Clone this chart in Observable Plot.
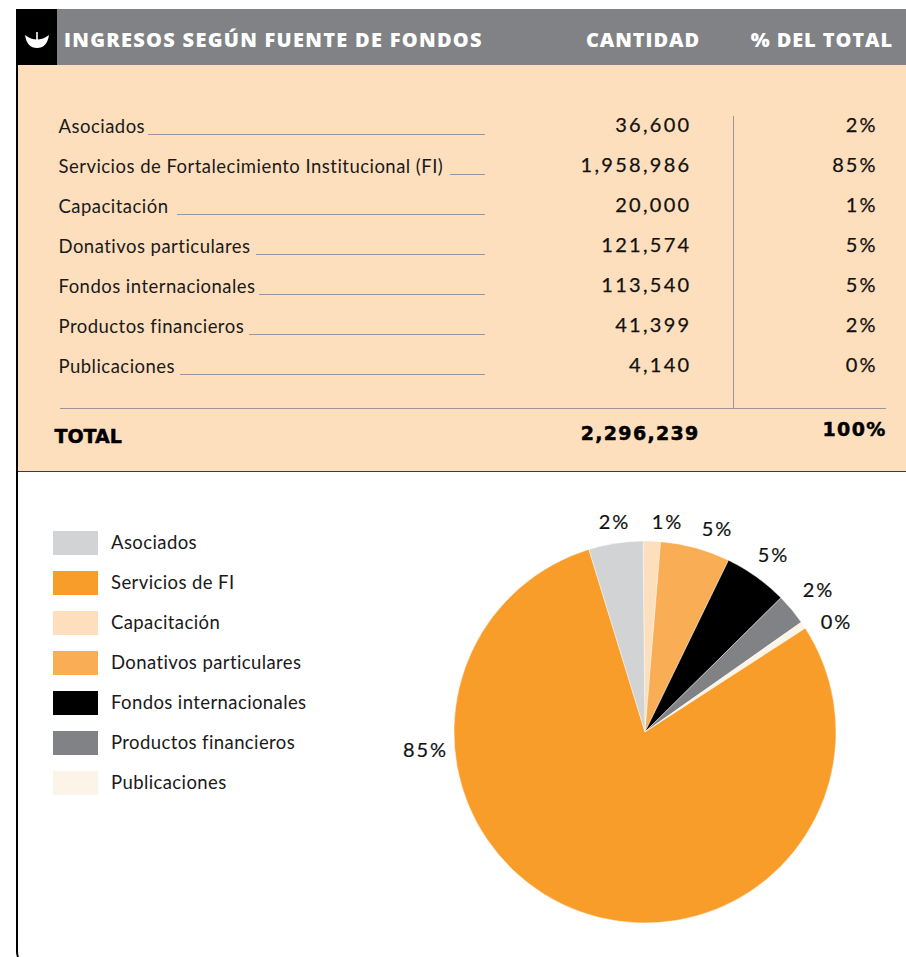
<!DOCTYPE html>
<html lang="es">
<head>
<meta charset="utf-8">
<script src="https://cdn.jsdelivr.net/npm/d3@7"></script>
<script src="https://cdn.jsdelivr.net/npm/@observablehq/plot@0.6"></script>
<style>
  html, body { margin: 0; padding: 0; background: #fff; width: 906px; height: 957px; overflow: hidden; }
  #page { position: relative; width: 906px; height: 957px; overflow: hidden; font-family: Lato, sans-serif; }
  #page > * { position: absolute; }
  .band { left: 17px; right: 0; }
  #head { top: 9px; height: 56px; background: #808285; }
  #mark { left: 17px; top: 9px; width: 40px; height: 56px; background: #000; }
  #peach { top: 65px; height: 406px; background: #fddfbd; border-bottom: 1.5px solid #3d3a36; }
  #edge { left: 16px; top: 9px; width: 30px; height: 962px; border-left: 2px solid #000; border-bottom-left-radius: 20px; box-sizing: border-box; }
  .hd { top: 27px; color: #fff; font-family: "Open Sans", sans-serif; font-weight: 800; font-size: 20px; line-height: 26px; white-space: nowrap; letter-spacing: 0.9px; }
  #h1 { letter-spacing: 1.27px; }
  #page svg.layer { left: 0; top: 0; background: transparent; overflow: visible; }
</style>
</head>
<body>
<div id="page">
  <div id="head" class="band"></div>
  <div id="peach" class="band"></div>
  <div id="edge"></div>
  <div id="mark"></div>
  <svg style="left:17px;top:9px" width="40" height="56" viewBox="0 0 40 56">
    <path d="M8 26 Q20 35 32 26 Q30 39 20 39 Q10 39 8 26Z M19.2 23h1.6v9h-1.6z" fill="#fff"/>
  </svg>
  <div class="hd" id="h1" style="left:64px"></div>
  <div class="hd" id="h2" style="right:206px"></div>
  <div class="hd" id="h3" style="right:13px"></div>
</div>
<script>
// ---- Data ----
const headers = ["INGRESOS SEGÚN FUENTE DE FONDOS", "CANTIDAD", "% DEL TOTAL"];
const rowLabels = [
  "Asociados",
  "Servicios de Fortalecimiento Institucional (FI)",
  "Capacitación",
  "Donativos particulares",
  "Fondos internacionales",
  "Productos financieros",
  "Publicaciones"
];
const amounts = [36600, 1958986, 20000, 121574, 113540, 41399, 4140];
const percents = [2, 85, 1, 5, 5, 2, 0];
const totalLabel = "TOTAL";
const totalAmount = 2296239;
const totalPercent = 100;

const legendNames = [
  "Asociados", "Servicios de FI", "Capacitación", "Donativos particulares",
  "Fondos internacionales", "Productos financieros", "Publicaciones"
];
const legendColors = ["#d1d3d4", "#f99d2a", "#fddfbd", "#f9ae55", "#000000", "#808285", "#fdf4e8"];

// Slices in drawn order, clockwise from the top; shares
const sliceNames = ["Capacitación", "Donativos particulares", "Fondos internacionales",
  "Productos financieros", "Publicaciones", "Servicios de FI", "Asociados"];
const sliceShares = [1.47, 5.9, 5.4, 2.65, 0.6, 79.4, 4.58];
const sliceLabels = ["1%", "5%", "5%", "2%", "0%", "85%", "2%"];

// ---- Layout (separate from the data) ----
const W = 906, H = 957;
const leaderStart = [148, 450, 177, 256, 259, 249, 180];
const pieC = {x: 645, y: 732, r: 191};
const labelOffset = [[22, -210], [72, -203], [128, -177], [173, -142], [191, -110], [-220, 18], [-31, -210]];
const pieStart = -0.6 * Math.PI / 180;

// applies letter spacing to a whole text mark
const spaced = px => (index, scales, values, dims, ctx, next) => {
  const g = next(index, scales, values, dims, ctx);
  g.style.letterSpacing = px + "px";
  return g;
};

const fmt = d3.format(",");
const rows = rowLabels.map((label, i) => ({label, i, amount: fmt(amounts[i]), pct: percents[i] + "%", start: leaderStart[i]}));
const page = document.getElementById("page");
document.getElementById("h1").textContent = headers[0];
document.getElementById("h2").textContent = headers[1];
document.getElementById("h3").textContent = headers[2];

const yRow = {type: "linear", domain: [0, 6], range: [126, 366], axis: null};
const xPx = {type: "linear", domain: [0, W], range: [0, W], axis: null};
const rule = "#96979a";
const heavy = "'DejaVu Sans', sans-serif";

const table = Plot.plot({
  width: W, height: H, margin: 0, className: "layer",
  style: {background: "transparent", fontFamily: "Lato, sans-serif", color: "#1a1a1a"},
  x: xPx, y: yRow,
  marks: [
    Plot.ruleY(rows, {y: d => d.i + 0.2, x1: "start", x2: () => 485, stroke: rule, strokeWidth: 1.2}),
    Plot.ruleX([733], {y1: -0.25, y2: 7.05, stroke: rule, strokeWidth: 1}),
    Plot.ruleY([7.05], {x1: 60, x2: 886, stroke: rule, strokeWidth: 1.2}),
    Plot.text(rows, {x: () => 58, y: d => d.i + 0.02, text: "label", textAnchor: "start", fontSize: 18.5, fill: "#1a1a1a", render: spaced(0.47)}),
    Plot.text(rows, {x: () => 691, y: d => d.i - 0.02, text: "amount", textAnchor: "end", fontSize: 20, fill: "#111", stroke: "#111", strokeWidth: 0.25, render: spaced(2.3)}),
    Plot.text(rows, {x: () => 877, y: d => d.i - 0.02, text: "pct", textAnchor: "end", fontSize: 20, fill: "#111", stroke: "#111", strokeWidth: 0.25, render: spaced(2)}),
    Plot.text([totalLabel], {x: () => 54, y: () => 7.75, text: d => d, textAnchor: "start", fontFamily: heavy, fontSize: 19, fontWeight: 700, stroke: "#000", strokeWidth: 0.5, fill: "#000"}),
    Plot.text([fmt(totalAmount)], {x: () => 699, y: () => 7.68, text: d => d, textAnchor: "end", fontFamily: heavy, fontSize: 19, fontWeight: 700, stroke: "#000", strokeWidth: 0.5, fill: "#000", render: spaced(1.3)}),
    Plot.text([totalPercent + "%"], {x: () => 886, y: () => 7.58, text: d => d, textAnchor: "end", fontFamily: heavy, fontSize: 19, fontWeight: 700, stroke: "#000", strokeWidth: 0.5, fill: "#000", render: spaced(1.3)})
  ]
});

const colorScale = {domain: legendNames, range: legendColors};

const legend = Plot.plot({
  width: W, height: H, margin: 0, className: "layer",
  style: {background: "transparent", fontFamily: "Lato, sans-serif"},
  x: {type: "band", domain: ["swatch"], range: [53, 98], padding: 0, axis: null},
  y: {type: "band", domain: legendNames, range: [529.5, 796], paddingInner: 0.408, paddingOuter: 0, axis: null},
  color: colorScale,
  marks: [
    Plot.cell(legendNames, {x: () => "swatch", y: d => d, fill: d => d}),
    Plot.text(legendNames, {y: d => d, text: d => d, frameAnchor: "left", dx: 110.5, fontSize: 18.5, fill: "#1a1a1a", render: spaced(0.4)})
  ]
});

const slices = sliceNames.map((name, i) => ({name, share: sliceShares[i], label: sliceLabels[i], off: labelOffset[i]}));
const pie = d3.pie().sort(null).value(d => d.share).startAngle(pieStart).endAngle(pieStart + 2 * Math.PI)(slices);
const arc = d3.arc().innerRadius(0);

const pieChart = Plot.plot({
  width: W, height: H, margin: 0, className: "layer",
  style: {background: "transparent", fontFamily: "Lato, sans-serif"},
  x: {domain: [-1, 1], range: [pieC.x - pieC.r, pieC.x + pieC.r], axis: null},
  y: {domain: [-1, 1], range: [pieC.y - pieC.r, pieC.y + pieC.r], axis: null},
  color: colorScale,
  marks: [
    Plot.dot(pie, {
      x: () => 0, y: () => 0, r: 1, fill: d => d.data.name,
      render(index, scales) {
        const cx = scales.x(0), cy = scales.y(0), r = Math.abs(scales.x(1) - scales.x(0));
        const g = d3.create("svg:g").attr("aria-label", "slices");
        for (const i of index) {
          g.append("path")
            .attr("transform", `translate(${cx},${cy})`)
            .attr("d", arc.outerRadius(r)(pie[i]))
            .attr("fill", scales.color(pie[i].data.name))
            .attr("stroke", "#fff").attr("stroke-width", 0.4);
        }
        return g.node();
      }
    }),
    Plot.text(slices, {
      x: d => d.off[0] / pieC.r, y: d => d.off[1] / pieC.r,
      text: "label", fontSize: 20, fill: "#111", stroke: "#111", strokeWidth: 0.2, render: spaced(2)
    })
  ]
});

page.append(table, legend, pieChart);
</script>
</body>
</html>
